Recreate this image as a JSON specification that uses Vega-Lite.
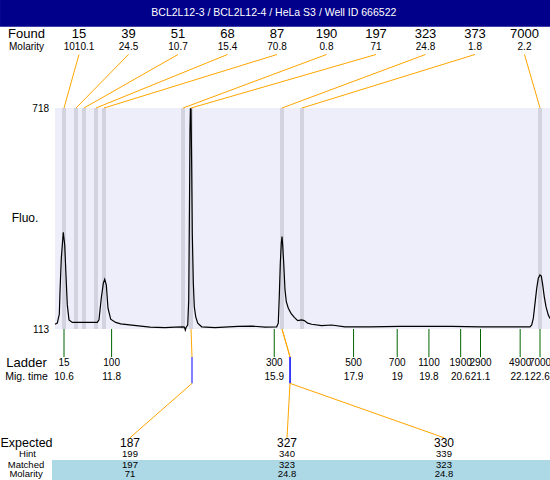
{
 "$schema": "https://vega.github.io/schema/vega-lite/v6.json",
 "width": 495,
 "height": 221,
 "autosize": {"type": "none"},
 "padding": {"left": 55, "top": 108, "right": 0, "bottom": 151},
 "background": "white",
 "config": {"font": "Liberation Sans", "view": {"fill": "#eeeefb", "stroke": null}, "text": {"font": "Liberation Sans", "color": "black"}},
 "datasets": {
  "found": [
   {"size": 15, "molarity": "1010.1", "t": 10.6},
   {"size": 39, "molarity": "24.5", "t": 10.903},
   {"size": 51, "molarity": "10.7", "t": 11.104},
   {"size": 68, "molarity": "15.4", "t": 11.407},
   {"size": 87, "molarity": "70.8", "t": 11.608},
   {"size": 190, "molarity": "0.8", "t": 13.6},
   {"size": 197, "molarity": "71", "t": 13.802},
   {"size": 323, "molarity": "24.8", "t": 16.096},
   {"size": 373, "molarity": "1.8", "t": 16.6},
   {"size": 7000, "molarity": "2.2", "t": 22.6}
  ],
  "ladder": [
   {"size": 15, "time": 10.6},
   {"size": 100, "time": 11.8},
   {"size": 300, "time": 15.9},
   {"size": 500, "time": 17.9},
   {"size": 700, "time": 19},
   {"size": 1100, "time": 19.8},
   {"size": 1900, "time": 20.6},
   {"size": 2900, "time": 21.1},
   {"size": 4900, "time": 22.1},
   {"size": 7000, "time": 22.6}
  ],
  "expected": [
   {"expected": 187, "hint": 199, "matched": 197, "molarity": "71", "tm": 13.802, "te": 13.827},
   {"expected": 327, "hint": 340, "matched": 323, "molarity": "24.8", "tm": 16.096, "te": 16.297},
   {"expected": 330, "hint": 339, "matched": 323, "molarity": "24.8", "tm": 16.096, "te": 16.3}
  ],
  "yticks": [{"fluo": 113}, {"fluo": 718}],
  "curve": [
   {"t": 10.373, "fluo": 126}, {"t": 10.431, "fluo": 129}, {"t": 10.482, "fluo": 154}, {"t": 10.499, "fluo": 215},
   {"t": 10.532, "fluo": 307}, {"t": 10.582, "fluo": 378}, {"t": 10.618, "fluo": 343}, {"t": 10.65, "fluo": 261},
   {"t": 10.683, "fluo": 179}, {"t": 10.726, "fluo": 138}, {"t": 10.809, "fluo": 131}, {"t": 11.129, "fluo": 131},
   {"t": 11.439, "fluo": 131}, {"t": 11.482, "fluo": 138}, {"t": 11.54, "fluo": 198}, {"t": 11.591, "fluo": 238},
   {"t": 11.626, "fluo": 249}, {"t": 11.666, "fluo": 234}, {"t": 11.709, "fluo": 170}, {"t": 11.777, "fluo": 140},
   {"t": 11.903, "fluo": 131}, {"t": 12.029, "fluo": 127}, {"t": 12.365, "fluo": 123}, {"t": 12.768, "fluo": 118},
   {"t": 13.146, "fluo": 117}, {"t": 13.398, "fluo": 118}, {"t": 13.6, "fluo": 119}, {"t": 13.638, "fluo": 118},
   {"t": 13.658, "fluo": 110}, {"t": 13.681, "fluo": 118}, {"t": 13.719, "fluo": 124}, {"t": 13.744, "fluo": 192},
   {"t": 13.764, "fluo": 466}, {"t": 13.777, "fluo": 658}, {"t": 13.789, "fluo": 716}, {"t": 13.802, "fluo": 716},
   {"t": 13.819, "fluo": 557}, {"t": 13.834, "fluo": 376}, {"t": 13.86, "fluo": 239}, {"t": 13.885, "fluo": 174},
   {"t": 13.92, "fluo": 147}, {"t": 13.971, "fluo": 129}, {"t": 14.071, "fluo": 119}, {"t": 14.407, "fluo": 117},
   {"t": 14.987, "fluo": 120}, {"t": 15.332, "fluo": 121}, {"t": 15.667, "fluo": 118}, {"t": 15.962, "fluo": 119},
   {"t": 16.002, "fluo": 129}, {"t": 16.027, "fluo": 201}, {"t": 16.053, "fluo": 293}, {"t": 16.078, "fluo": 348},
   {"t": 16.096, "fluo": 366}, {"t": 16.113, "fluo": 343}, {"t": 16.139, "fluo": 293}, {"t": 16.171, "fluo": 220},
   {"t": 16.204, "fluo": 188}, {"t": 16.255, "fluo": 170}, {"t": 16.323, "fluo": 156}, {"t": 16.406, "fluo": 145},
   {"t": 16.492, "fluo": 136}, {"t": 16.592, "fluo": 138}, {"t": 16.658, "fluo": 136}, {"t": 16.743, "fluo": 129},
   {"t": 16.844, "fluo": 126}, {"t": 17.096, "fluo": 122}, {"t": 17.348, "fluo": 124}, {"t": 17.684, "fluo": 119},
   {"t": 18.314, "fluo": 119}, {"t": 19.07, "fluo": 120}, {"t": 19.744, "fluo": 120}, {"t": 20.374, "fluo": 120},
   {"t": 21.087, "fluo": 119}, {"t": 21.844, "fluo": 119}, {"t": 22.348, "fluo": 119}, {"t": 22.391, "fluo": 124},
   {"t": 22.431, "fluo": 142}, {"t": 22.474, "fluo": 183}, {"t": 22.517, "fluo": 224}, {"t": 22.557, "fluo": 252},
   {"t": 22.6, "fluo": 261}, {"t": 22.633, "fluo": 258}, {"t": 22.668, "fluo": 234}, {"t": 22.708, "fluo": 201},
   {"t": 22.751, "fluo": 174}, {"t": 22.809, "fluo": 151}, {"t": 22.852, "fluo": 142}
  ]
 },
 "layer": [
  {
   "data": {"name": "found"},
   "mark": {"type": "rule", "color": "#d3d3e0", "strokeWidth": 4},
   "encoding": {
    "x": {"field": "t", "type": "quantitative", "scale": {"domain": [10.373, 22.852], "nice": false, "zero": false}, "axis": null}
   }
  },
  {
   "data": {"name": "curve"},
   "mark": {"type": "line", "color": "black", "strokeWidth": 1.2},
   "encoding": {
    "x": {"field": "t", "type": "quantitative", "scale": {"domain": [10.373, 22.852], "nice": false, "zero": false}, "axis": null},
    "y": {"field": "fluo", "type": "quantitative", "scale": {"domain": [113, 718], "nice": false, "zero": false}, "axis": null}
   }
  },
  {
   "data": {"name": "yticks"},
   "mark": {"type": "text", "fontSize": 10, "align": "right", "dy": 1},
   "encoding": {
    "x": {"datum": 10.222, "type": "quantitative", "scale": {"domain": [10.373, 22.852], "nice": false, "zero": false}, "axis": null},
    "y": {"field": "fluo", "type": "quantitative", "scale": {"domain": [113, 718], "nice": false, "zero": false}, "axis": null},
    "text": {"field": "fluo", "type": "nominal"}
   }
  },
  {
   "data": {"values": [{"label": "Fluo.", "row": "axis"}]},
   "mark": {"type": "text", "fontSize": 12},
   "encoding": {
    "x": {"datum": 9.617, "type": "quantitative", "scale": {"domain": [10.373, 22.852], "nice": false, "zero": false}, "axis": null},
    "y": {"datum": 416.9, "type": "quantitative", "scale": {"domain": [113, 718], "nice": false, "zero": false}, "axis": null},
    "text": {"field": "label", "type": "nominal"}
   }
  },
  {
   "data": {"name": "found"},
   "transform": [{"window": [{"op": "row_number", "as": "idx"}]}, {"calculate": "10.978 + 1.2479*(datum.idx-1)", "as": "lt"}],
   "mark": {"type": "rule", "color": "orange", "strokeWidth": 1},
   "encoding": {
    "x": {"field": "lt", "type": "quantitative", "scale": {"domain": [10.373, 22.852], "nice": false, "zero": false}, "axis": null},
    "y": {"datum": 864.5, "type": "quantitative", "scale": {"domain": [113, 718], "nice": false, "zero": false}, "axis": null},
    "x2": {"field": "t"},
    "y2": {"datum": 718}
   }
  },
  {
   "data": {"name": "found"},
   "transform": [{"window": [{"op": "row_number", "as": "idx"}]}, {"calculate": "10.978 + 1.2479*(datum.idx-1)", "as": "lt"}],
   "mark": {"type": "text", "fontSize": 13},
   "encoding": {
    "x": {"field": "lt", "type": "quantitative", "scale": {"domain": [10.373, 22.852], "nice": false, "zero": false}, "axis": null},
    "y": {"datum": 919.8, "type": "quantitative", "scale": {"domain": [113, 718], "nice": false, "zero": false}, "axis": null},
    "text": {"field": "size", "type": "nominal"}
   }
  },
  {
   "data": {"name": "found"},
   "transform": [{"window": [{"op": "row_number", "as": "idx"}]}, {"calculate": "10.978 + 1.2479*(datum.idx-1)", "as": "lt"}],
   "mark": {"type": "text", "fontSize": 10},
   "encoding": {
    "x": {"field": "lt", "type": "quantitative", "scale": {"domain": [10.373, 22.852], "nice": false, "zero": false}, "axis": null},
    "y": {"datum": 885.8, "type": "quantitative", "scale": {"domain": [113, 718], "nice": false, "zero": false}, "axis": null},
    "text": {"field": "molarity", "type": "nominal"}
   }
  },
  {
   "data": {"name": "ladder"},
   "mark": {"type": "rule", "color": "#006400", "strokeWidth": 1},
   "encoding": {
    "x": {"field": "time", "type": "quantitative", "scale": {"domain": [10.373, 22.852], "nice": false, "zero": false}, "axis": null},
    "y": {"datum": 113, "type": "quantitative", "scale": {"domain": [113, 718], "nice": false, "zero": false}, "axis": null},
    "y2": {"datum": 36}
   }
  },
  {
   "data": {"name": "ladder"},
   "mark": {"type": "text", "fontSize": 10},
   "encoding": {
    "x": {"field": "time", "type": "quantitative", "scale": {"domain": [10.373, 22.852], "nice": false, "zero": false}, "axis": null},
    "y": {"datum": 19.1, "type": "quantitative", "scale": {"domain": [113, 718], "nice": false, "zero": false}, "axis": null},
    "text": {"field": "size", "type": "nominal"}
   }
  },
  {
   "data": {"name": "ladder"},
   "mark": {"type": "text", "fontSize": 10},
   "encoding": {
    "x": {"field": "time", "type": "quantitative", "scale": {"domain": [10.373, 22.852], "nice": false, "zero": false}, "axis": null},
    "y": {"datum": -17.6, "type": "quantitative", "scale": {"domain": [113, 718], "nice": false, "zero": false}, "axis": null},
    "text": {"field": "time", "type": "nominal"}
   }
  },
  {
   "data": {"name": "expected"},
   "mark": {"type": "rule", "color": "orange", "strokeWidth": 1},
   "encoding": {
    "x": {"field": "tm", "type": "quantitative", "scale": {"domain": [10.373, 22.852], "nice": false, "zero": false}, "axis": null},
    "y": {"datum": 113, "type": "quantitative", "scale": {"domain": [113, 718], "nice": false, "zero": false}, "axis": null},
    "x2": {"field": "te"},
    "y2": {"datum": 36.3}
   }
  },
  {
   "data": {"name": "expected"},
   "mark": {"type": "rule", "color": "blue", "strokeWidth": 1},
   "encoding": {
    "x": {"field": "te", "type": "quantitative", "scale": {"domain": [10.373, 22.852], "nice": false, "zero": false}, "axis": null},
    "y": {"datum": 36.3, "type": "quantitative", "scale": {"domain": [113, 718], "nice": false, "zero": false}, "axis": null},
    "y2": {"datum": -35.9}
   }
  },
  {
   "data": {"name": "expected"},
   "transform": [{"window": [{"op": "row_number", "as": "idx"}]}, {"calculate": "12.264 + 3.958*(datum.idx-1)", "as": "lx"}],
   "mark": {"type": "rule", "color": "orange", "strokeWidth": 1},
   "encoding": {
    "x": {"field": "te", "type": "quantitative", "scale": {"domain": [10.373, 22.852], "nice": false, "zero": false}, "axis": null},
    "y": {"datum": -35.9, "type": "quantitative", "scale": {"domain": [113, 718], "nice": false, "zero": false}, "axis": null},
    "x2": {"field": "lx"},
    "y2": {"datum": -184.6}
   }
  },
  {
   "data": {"values": [{"band": "matched"}]},
   "mark": {"type": "rect", "color": "#add8e6"},
   "encoding": {
    "x": {"datum": 10.297, "type": "quantitative", "scale": {"domain": [10.373, 22.852], "nice": false, "zero": false}, "axis": null},
    "x2": {"datum": 22.852},
    "y": {"datum": -245.6, "type": "quantitative", "scale": {"domain": [113, 718], "nice": false, "zero": false}, "axis": null},
    "y2": {"datum": -300.4}
   }
  },
  {
   "data": {"name": "expected"},
   "transform": [{"window": [{"op": "row_number", "as": "idx"}]}, {"calculate": "12.264 + 3.958*(datum.idx-1)", "as": "lx"}],
   "mark": {"type": "text", "fontSize": 12},
   "encoding": {
    "x": {"field": "lx", "type": "quantitative", "scale": {"domain": [10.373, 22.852], "nice": false, "zero": false}, "axis": null},
    "y": {"datum": -199.9, "type": "quantitative", "scale": {"domain": [113, 718], "nice": false, "zero": false}, "axis": null},
    "text": {"field": "expected", "type": "nominal"}
   }
  },
  {
   "data": {"name": "expected"},
   "transform": [{"window": [{"op": "row_number", "as": "idx"}]}, {"calculate": "12.264 + 3.958*(datum.idx-1)", "as": "lx"}],
   "mark": {"type": "text", "fontSize": 9.5},
   "encoding": {
    "x": {"field": "lx", "type": "quantitative", "scale": {"domain": [10.373, 22.852], "nice": false, "zero": false}, "axis": null},
    "y": {"datum": -229.2, "type": "quantitative", "scale": {"domain": [113, 718], "nice": false, "zero": false}, "axis": null},
    "text": {"field": "hint", "type": "nominal"}
   }
  },
  {
   "data": {"name": "expected"},
   "transform": [{"window": [{"op": "row_number", "as": "idx"}]}, {"calculate": "12.264 + 3.958*(datum.idx-1)", "as": "lx"}],
   "mark": {"type": "text", "fontSize": 9.5},
   "encoding": {
    "x": {"field": "lx", "type": "quantitative", "scale": {"domain": [10.373, 22.852], "nice": false, "zero": false}, "axis": null},
    "y": {"datum": -259.3, "type": "quantitative", "scale": {"domain": [113, 718], "nice": false, "zero": false}, "axis": null},
    "text": {"field": "matched", "type": "nominal"}
   }
  },
  {
   "data": {"name": "expected"},
   "transform": [{"window": [{"op": "row_number", "as": "idx"}]}, {"calculate": "12.264 + 3.958*(datum.idx-1)", "as": "lx"}],
   "mark": {"type": "text", "fontSize": 9.5},
   "encoding": {
    "x": {"field": "lx", "type": "quantitative", "scale": {"domain": [10.373, 22.852], "nice": false, "zero": false}, "axis": null},
    "y": {"datum": -284.8, "type": "quantitative", "scale": {"domain": [113, 718], "nice": false, "zero": false}, "axis": null},
    "text": {"field": "molarity", "type": "nominal"}
   }
  },
  {
   "data": {"values": [{"label": "Found", "row": "found"}]},
   "mark": {"type": "text", "fontSize": 13},
   "encoding": {
    "x": {"datum": 9.655, "type": "quantitative", "scale": {"domain": [10.373, 22.852], "nice": false, "zero": false}, "axis": null},
    "y": {"datum": 919.8, "type": "quantitative", "scale": {"domain": [113, 718], "nice": false, "zero": false}, "axis": null},
    "text": {"field": "label", "type": "nominal"}
   }
  },
  {
   "data": {"values": [{"label": "Molarity", "row": "found"}]},
   "mark": {"type": "text", "fontSize": 10},
   "encoding": {
    "x": {"datum": 9.655, "type": "quantitative", "scale": {"domain": [10.373, 22.852], "nice": false, "zero": false}, "axis": null},
    "y": {"datum": 885.8, "type": "quantitative", "scale": {"domain": [113, 718], "nice": false, "zero": false}, "axis": null},
    "text": {"field": "label", "type": "nominal"}
   }
  },
  {
   "data": {"values": [{"label": "Ladder", "row": "ladder"}]},
   "mark": {"type": "text", "fontSize": 13},
   "encoding": {
    "x": {"datum": 9.655, "type": "quantitative", "scale": {"domain": [10.373, 22.852], "nice": false, "zero": false}, "axis": null},
    "y": {"datum": 19.1, "type": "quantitative", "scale": {"domain": [113, 718], "nice": false, "zero": false}, "axis": null},
    "text": {"field": "label", "type": "nominal"}
   }
  },
  {
   "data": {"values": [{"label": "Mig. time", "row": "ladder"}]},
   "mark": {"type": "text", "fontSize": 10.5},
   "encoding": {
    "x": {"datum": 9.655, "type": "quantitative", "scale": {"domain": [10.373, 22.852], "nice": false, "zero": false}, "axis": null},
    "y": {"datum": -17.6, "type": "quantitative", "scale": {"domain": [113, 718], "nice": false, "zero": false}, "axis": null},
    "text": {"field": "label", "type": "nominal"}
   }
  },
  {
   "data": {"values": [{"label": "Expected", "row": "expected"}]},
   "mark": {"type": "text", "fontSize": 12.5},
   "encoding": {
    "x": {"datum": 9.655, "type": "quantitative", "scale": {"domain": [10.373, 22.852], "nice": false, "zero": false}, "axis": null},
    "y": {"datum": -199.9, "type": "quantitative", "scale": {"domain": [113, 718], "nice": false, "zero": false}, "axis": null},
    "text": {"field": "label", "type": "nominal"}
   }
  },
  {
   "data": {"values": [{"label": "Hint", "row": "expected"}]},
   "mark": {"type": "text", "fontSize": 9.5},
   "encoding": {
    "x": {"datum": 9.68, "type": "quantitative", "scale": {"domain": [10.373, 22.852], "nice": false, "zero": false}, "axis": null},
    "y": {"datum": -229.2, "type": "quantitative", "scale": {"domain": [113, 718], "nice": false, "zero": false}, "axis": null},
    "text": {"field": "label", "type": "nominal"}
   }
  },
  {
   "data": {"values": [{"label": "Matched", "row": "expected"}]},
   "mark": {"type": "text", "fontSize": 9.5},
   "encoding": {
    "x": {"datum": 9.642, "type": "quantitative", "scale": {"domain": [10.373, 22.852], "nice": false, "zero": false}, "axis": null},
    "y": {"datum": -259.3, "type": "quantitative", "scale": {"domain": [113, 718], "nice": false, "zero": false}, "axis": null},
    "text": {"field": "label", "type": "nominal"}
   }
  },
  {
   "data": {"values": [{"label": "Molarity", "row": "expected"}]},
   "mark": {"type": "text", "fontSize": 9.5},
   "encoding": {
    "x": {"datum": 9.642, "type": "quantitative", "scale": {"domain": [10.373, 22.852], "nice": false, "zero": false}, "axis": null},
    "y": {"datum": -284.8, "type": "quantitative", "scale": {"domain": [113, 718], "nice": false, "zero": false}, "axis": null},
    "text": {"field": "label", "type": "nominal"}
   }
  },
  {
   "data": {"values": [{"title": "BCL2L12-3 / BCL2L12-4 / HeLa S3 / Well ID 666522"}]},
   "mark": {"type": "rect", "color": "#00008b"},
   "encoding": {
    "x": {"datum": 8.987, "type": "quantitative", "scale": {"domain": [10.373, 22.852], "nice": false, "zero": false}, "axis": null},
    "x2": {"datum": 22.852},
    "y": {"datum": 1014, "type": "quantitative", "scale": {"domain": [113, 718], "nice": false, "zero": false}, "axis": null},
    "y2": {"datum": 940.6}
   }
  },
  {
   "data": {"values": [{"title": "BCL2L12-3 / BCL2L12-4 / HeLa S3 / Well ID 666522"}]},
   "mark": {"type": "text", "fontSize": 10.5, "color": "white"},
   "encoding": {
    "x": {"datum": 15.89, "type": "quantitative", "scale": {"domain": [10.373, 22.852], "nice": false, "zero": false}, "axis": null},
    "y": {"datum": 978, "type": "quantitative", "scale": {"domain": [113, 718], "nice": false, "zero": false}, "axis": null},
    "text": {"field": "title", "type": "nominal"}
   }
  }
 ]
}
